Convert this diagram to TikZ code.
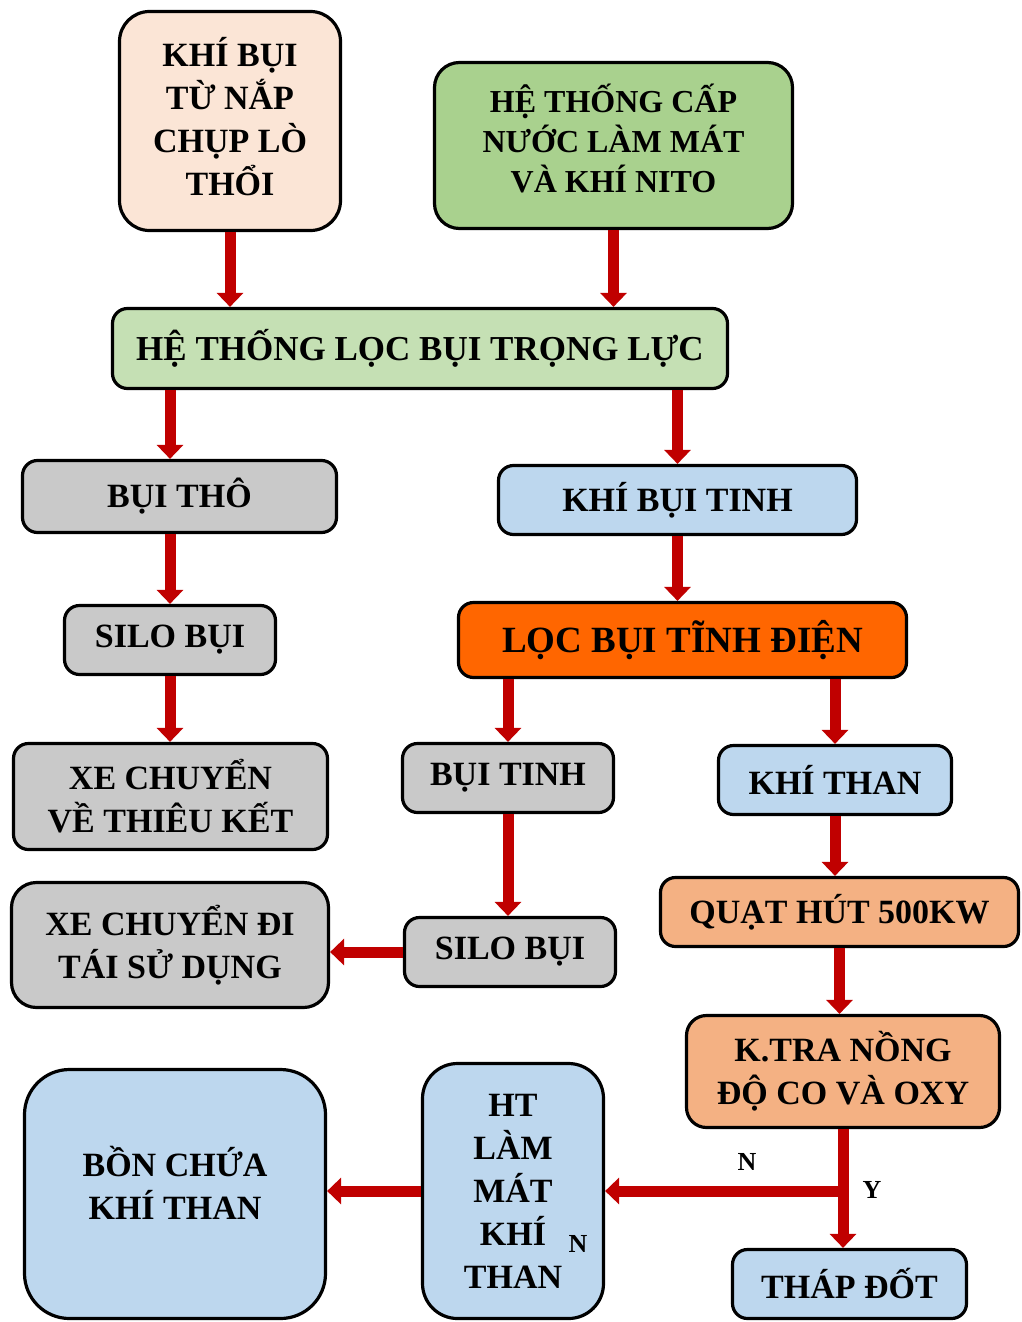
\documentclass[tikz,border=0pt]{standalone}
\usepackage{fontspec}
\setmainfont{Liberation Serif}
\usetikzlibrary{arrows.meta}

\definecolor{peach}{HTML}{FBE5D6}
\definecolor{leaf}{HTML}{A9D18E}
\definecolor{palegreen}{HTML}{C5E0B4}
\definecolor{dustgray}{HTML}{C9C9C9}
\definecolor{skyblue}{HTML}{BDD7EE}
\definecolor{hotorange}{HTML}{FF6600}
\definecolor{salmon}{HTML}{F4B183}
\definecolor{flowred}{HTML}{C00000}

\begin{document}
\begin{tikzpicture}[x=1pt,y=-1pt,
  box/.style={draw,line width=3.2pt,rounded corners=15pt,align=center,inner sep=0pt,
    font=\fontsize{34}{43}\selectfont\bfseries},
  lbl/.style={font=\fontsize{26}{30}\selectfont\bfseries},
  flow/.style={draw=flowred,line width=11pt,-{Triangle[width=26pt,length=14pt]}}]
\useasboundingbox (0,0) rectangle (1022,1322);

\node[box,fill=peach,rounded corners=30pt,minimum width=221pt,minimum height=219pt] (khi_bui) at (230,121) {KHÍ BỤI\\TỪ NẮP\\CHỤP LÒ\\THỔI\\[-33pt]};
\node[box,fill=leaf,rounded corners=25pt,minimum width=358pt,minimum height=166pt,font=\fontsize{32}{40}\selectfont\bfseries] (cap_nuoc) at (613.5,145.5) {HỆ THỐNG CẤP\\NƯỚC LÀM MÁT\\VÀ KHÍ NITO\\[-26pt]};
\node[box,fill=palegreen,minimum width=615pt,minimum height=80pt,font=\fontsize{35}{43}\selectfont\bfseries] (loc_tl) at (420,348.5) {HỆ THỐNG LỌC BỤI TRỌNG LỰC};
\node[box,fill=dustgray,minimum width=314pt,minimum height=72pt] (bui_tho) at (179.5,496.5) {BỤI THÔ};
\node[box,fill=skyblue,minimum width=358pt,minimum height=69pt] (khi_tinh) at (677.5,500) {KHÍ BỤI TINH};
\node[box,fill=dustgray,minimum width=211pt,minimum height=69pt] (silo_1) at (170,640) {SILO BỤI};
\node[box,fill=hotorange,minimum width=448pt,minimum height=75pt,font=\fontsize{37}{43}\selectfont\bfseries] (loc_td) at (682.5,640) {LỌC BỤI TĨNH ĐIỆN};
\node[box,fill=dustgray,minimum width=314pt,minimum height=106pt] (xe_tk) at (170.5,796.5) {XE CHUYỂN\\VỀ THIÊU KẾT};
\node[box,fill=dustgray,minimum width=211pt,minimum height=69pt] (bui_tinh) at (508,778) {BỤI TINH};
\node[box,fill=skyblue,minimum width=233pt,minimum height=69pt] (khi_than) at (835,780) {KHÍ THAN};
\node[box,fill=dustgray,rounded corners=25pt,minimum width=317pt,minimum height=125pt] (xe_tsd) at (170,945) {XE CHUYỂN ĐI\\TÁI SỬ DỤNG};
\node[box,fill=dustgray,minimum width=211pt,minimum height=69pt] (silo_2) at (510,952) {SILO BỤI};
\node[box,fill=salmon,minimum width=358pt,minimum height=69pt] (quat) at (839.5,912) {QUẠT HÚT 500KW};
\node[box,fill=salmon,rounded corners=20pt,minimum width=313pt,minimum height=112pt] (ktra) at (843,1071.5) {K.TRA NỒNG\\ĐỘ CO VÀ OXY};
\node[box,fill=skyblue,rounded corners=45pt,minimum width=301pt,minimum height=249pt] (bon) at (175,1194) {BỒN CHỨA\\KHÍ THAN\\[-21pt]};
\node[box,fill=skyblue,rounded corners=35pt,minimum width=181pt,minimum height=255pt] (ht) at (513,1191) {HT\\LÀM\\MÁT\\KHÍ\\THAN};
\node[box,fill=skyblue,minimum width=234pt,minimum height=69pt] (thap) at (849.5,1284) {THÁP ĐỐT};

\node[lbl] (n_1) at (747,1162) {N};
\node[lbl] (y_1) at (872,1190) {Y};
\node[lbl] (n_2) at (578,1244) {N};

\draw[flow] (khi_bui.south) -- (khi_bui.south |- loc_tl.north);
\draw[flow] (cap_nuoc.south) -- (cap_nuoc.south |- loc_tl.north);
\draw[flow] (loc_tl.south -| silo_1.north) -- (bui_tho.north -| silo_1.north);
\draw[flow] (khi_tinh.north |- loc_tl.south) -- (khi_tinh.north);
\draw[flow] (silo_1.north |- bui_tho.south) -- (silo_1.north);
\draw[flow] (khi_tinh.south) -- (khi_tinh.south |- loc_td.north);
\draw[flow] (silo_1.south) -- (silo_1.south |- xe_tk.north);
\draw[flow] (bui_tinh.north |- loc_td.south) -- (bui_tinh.north);
\draw[flow] (khi_than.north |- loc_td.south) -- (khi_than.north);
\draw[flow] (bui_tinh.south) -- (bui_tinh.south |- silo_2.north);
\draw[flow] (silo_2.west) -- (silo_2.west -| xe_tsd.east);
\draw[flow] (khi_than.south) -- (khi_than.south |- quat.north);
\draw[flow] (quat.south) -- (quat.south |- ktra.north);
\draw[flow] (ktra.south) -- (ktra.south |- thap.north);
\coordinate (tach) at (ktra.south |- ht.east);
\draw[flow] (tach) -- (ht.east);
\draw[flow] (ht.west) -- (ht.west -| bon.east);
\end{tikzpicture}
\end{document}
